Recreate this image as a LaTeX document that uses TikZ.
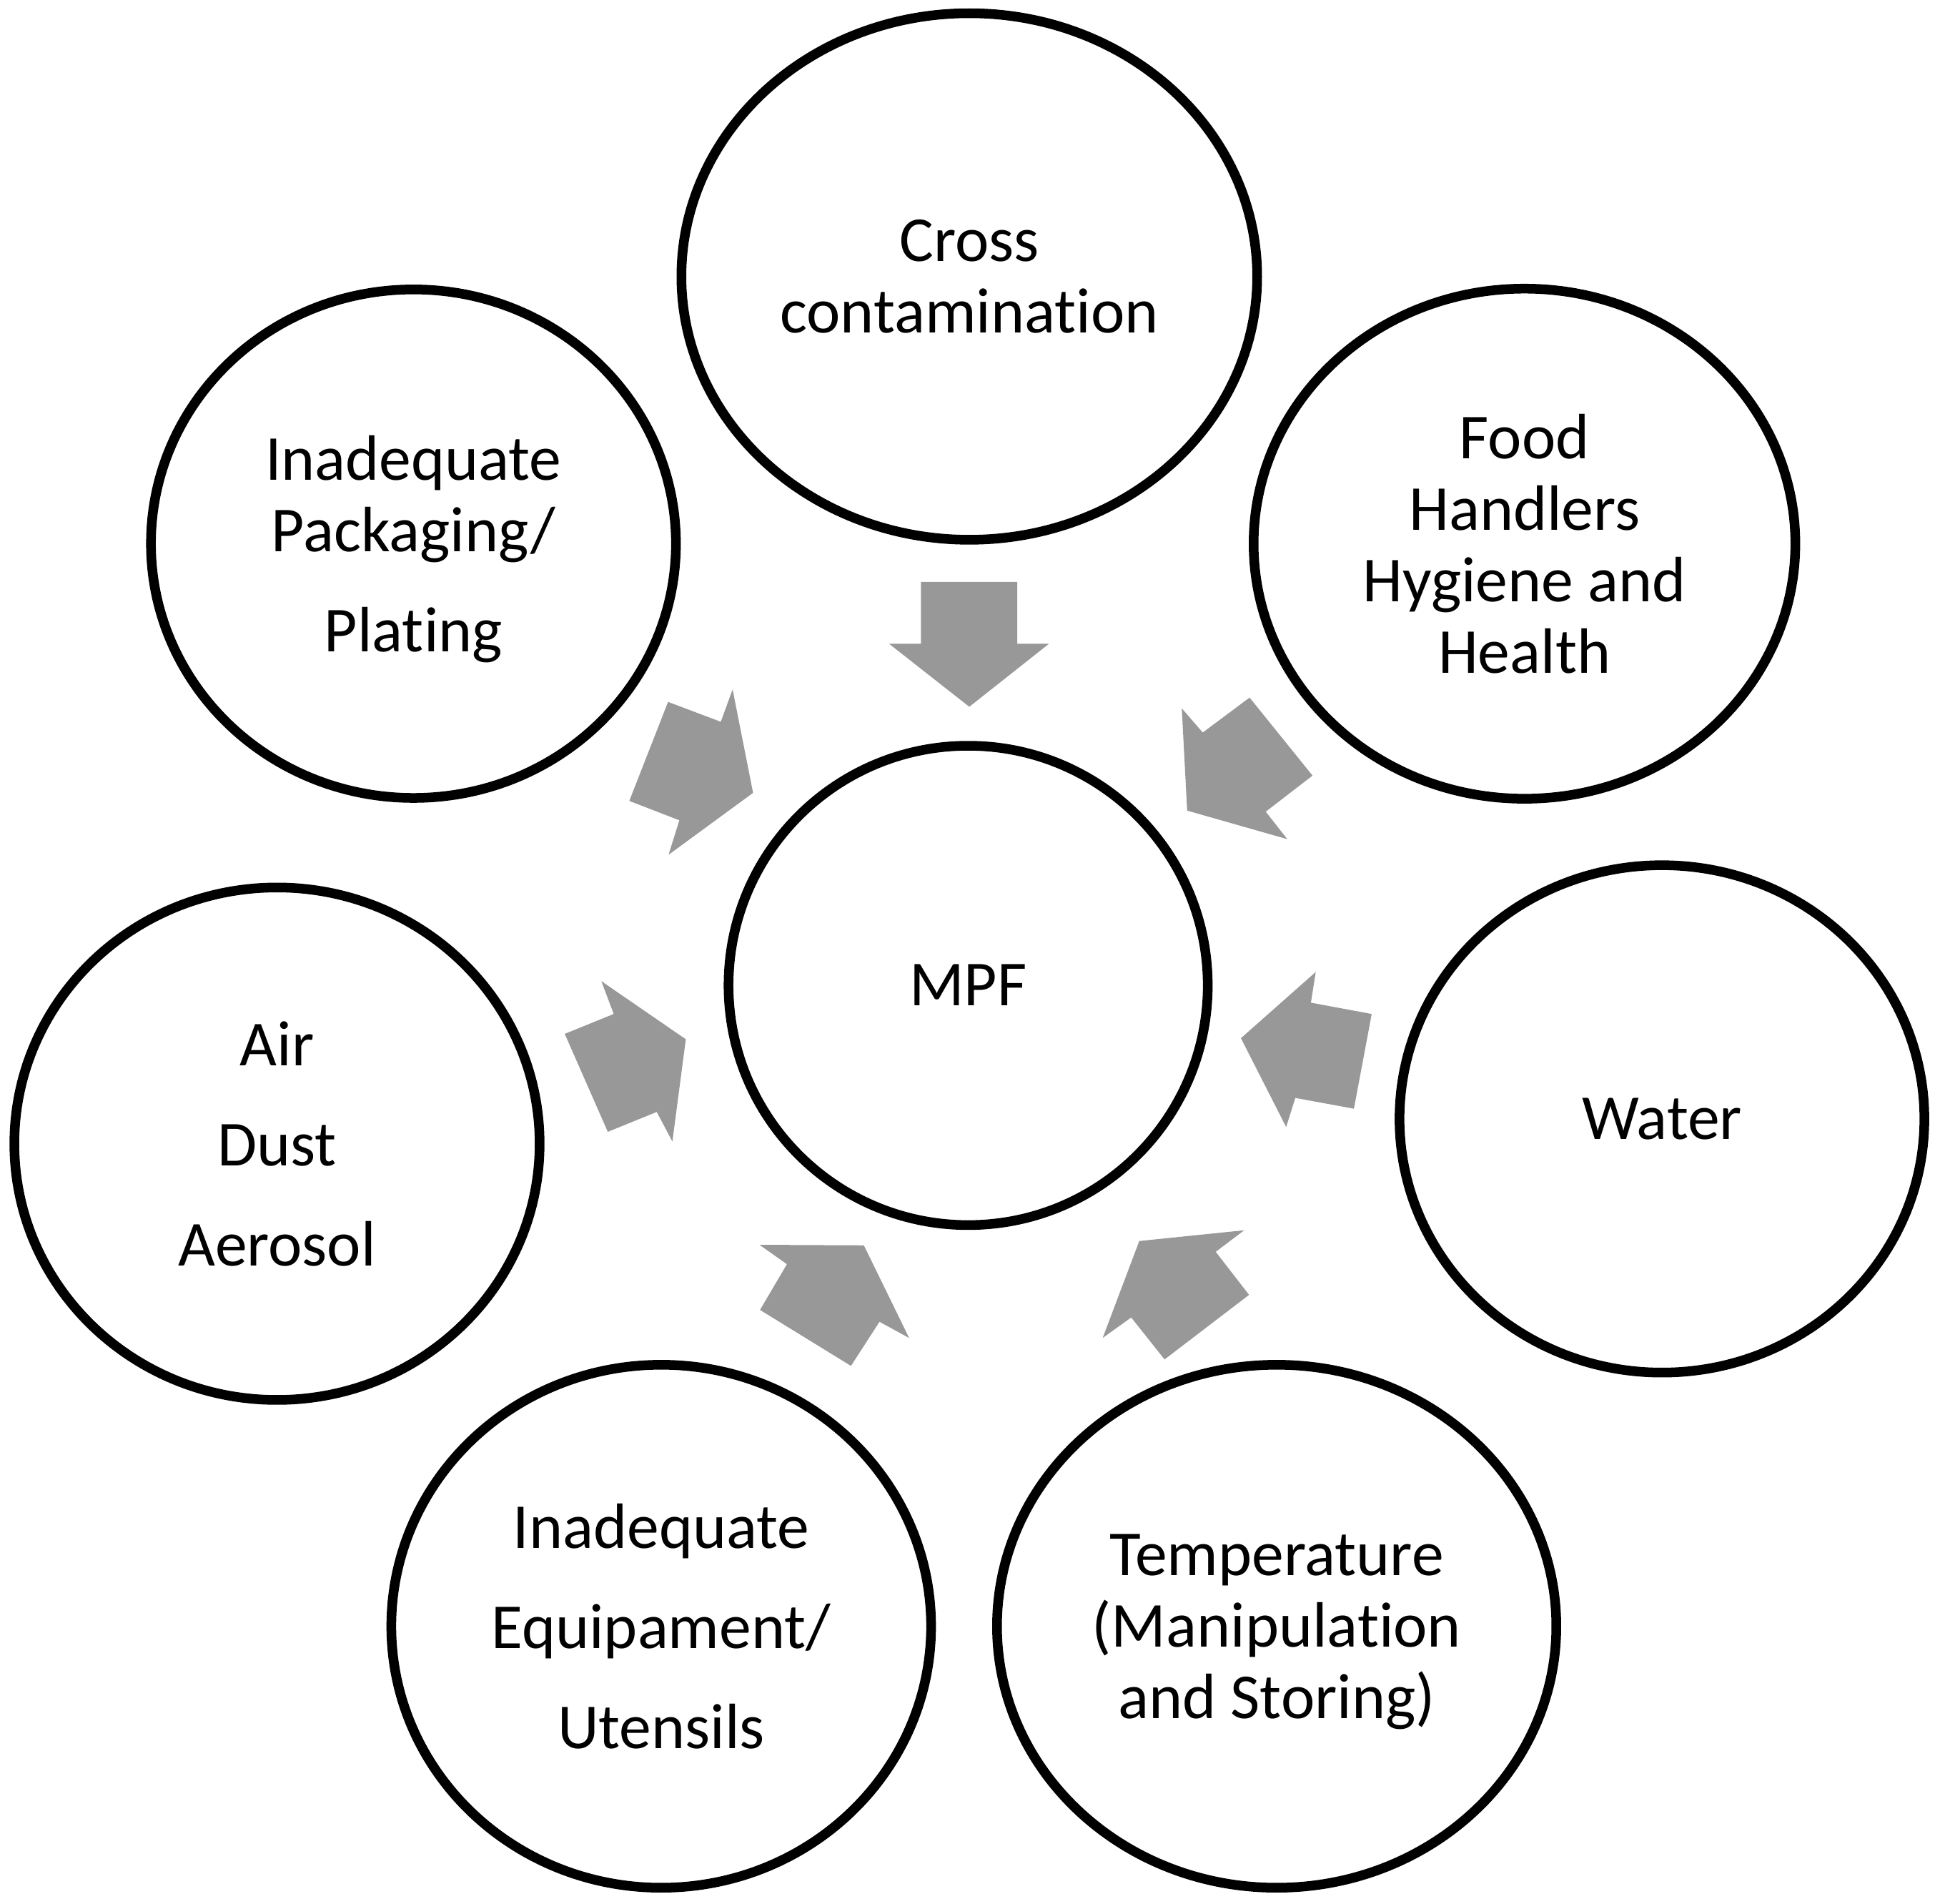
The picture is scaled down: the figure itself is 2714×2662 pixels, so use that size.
\documentclass[tikz,border=0pt]{standalone}
\usepackage{fontspec}
\setmainfont{Carlito}[Ligatures={NoCommon,NoContextual}]
\usetikzlibrary{shapes.geometric}
\definecolor{arrowgray}{RGB}{152,152,152}
\begin{document}
\begin{tikzpicture}[x=0.01cm,y=-0.01cm,
  bubble/.style={ellipse, draw=black, line width=0.135cm, fill=white,
    inner sep=0pt, outer sep=0pt, align=center, text depth=0pt,
    font=\fontsize{25.5}{28.4}\selectfont},
  widespaced/.style={font=\fontsize{25.5}{39.8}\selectfont},
  blockarrow/.style={fill=arrowgray, draw=none}]
\fill[white] (0,0) rectangle (2714,2662);
\useasboundingbox (0,0) rectangle (2714,2662);

% block arrows pointing to the centre
\begin{scope}[shift={(760,780)}, scale=0.75255]
  \fill[blockarrow] (702,45) -- (881,45) -- (881,160) -- (940,160) -- (792,277) -- (643,160) -- (702,160) -- cycle;
  \fill[blockarrow] (1313,260) -- (1430,405) -- (1343,472) -- (1383,523) -- (1197,470) -- (1187,280) -- (1226,325) -- cycle;
  \fill[blockarrow] (1540,848) -- (1507,1024) -- (1398,1004) -- (1381,1058) -- (1297,893) -- (1436,770) -- (1427,827) -- cycle;
  \fill[blockarrow] (1312,1370) -- (1155,1490) -- (1093,1412) -- (1040,1450) -- (1108,1270) -- (1303,1250) -- (1250,1290) -- cycle;
  \fill[blockarrow] (572,1502) -- (403,1398) -- (453,1313) -- (402,1277) -- (596,1278) -- (680,1450) -- (625,1420) -- cycle;
  \fill[blockarrow] (120,1067) -- (40,885) -- (131,848) -- (108,787) -- (265,895) -- (240,1085) -- (211,1030) -- cycle;
  \fill[blockarrow] (160,452) -- (232,268) -- (330,305) -- (352,245) -- (390,437) -- (233,552) -- (253,488) -- cycle;
\end{scope}

% circles
\node[bubble, minimum width=6.70cm, minimum height=6.70cm] (mpf) at (1354.4,1378.2) {MPF};
\node[bubble, minimum width=8.05cm, minimum height=7.36cm] (cross) at (1356,386.7) {Cross\\contaminat\kern0pt ion};
\node[bubble, minimum width=7.574cm, minimum height=7.13cm] (food) at (2132.7,760.4) {Food\\Handlers\\Hygiene and\\Health};
\node[bubble, minimum width=7.34cm, minimum height=7.108cm] (pack) at (578.4,760.4) {Inadequate\\Packaging/\\[11.4pt]Plating};
\node[bubble, widespaced, minimum width=7.344cm, minimum height=7.163cm] (air) at (387.5,1599.6) {Air\\Dust\\Aerosol};
\node[bubble, minimum width=7.338cm, minimum height=7.092cm] (water) at (2325,1564.9) {Water};
\node[bubble, widespaced, minimum width=7.547cm, minimum height=7.31cm] (equip) at (925,2274.5) {Inadequate\\Equipament/\\Utensils};
\node[bubble, minimum width=7.82cm, minimum height=7.31cm] (temp) at (1786,2274.5) {Temperature\\(Manipulat\kern0pt ion\\and Storing)};
\end{tikzpicture}
\end{document}
